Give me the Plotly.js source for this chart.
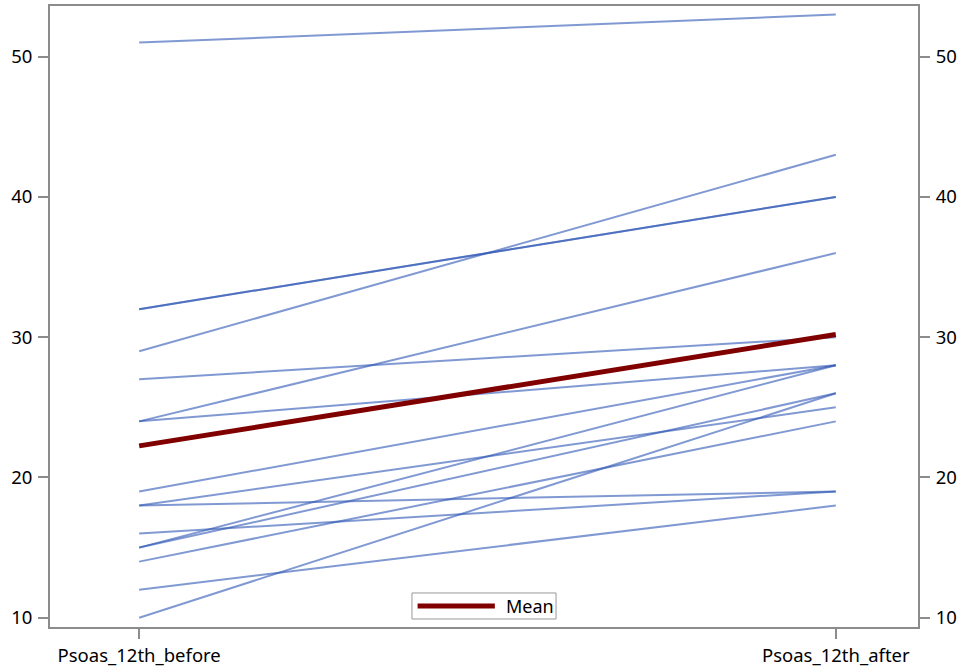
<!DOCTYPE html>
<html>
<head>
<meta charset="utf-8">
<script src="https://cdn.plot.ly/plotly-3.0.1.min.js"></script>
<style>html,body{margin:0;padding:0;background:#fff;}#chart{width:962px;height:671px;}</style>
</head>
<body>
<div id="chart"></div>
<script>
const categories = ["Psoas_12th_before", "Psoas_12th_after"];
const beforeValues = [51, 32, 32, 29, 27, 24, 24, 19, 18, 18, 16, 15, 15, 14, 12, 10];
const afterValues  = [53, 40, 40, 43, 30, 36, 28, 28, 25, 19, 19, 28, 26, 24, 18, 26];
const meanValues = [22.25, 30.19];
const yTicks = [10, 20, 30, 40, 50];
const legendLabel = "Mean";

const FONT = "Noto Sans, DejaVu Sans, sans-serif";
const MEAN_COLOR = "#800000";
const traces = [];
for (let i = 0; i < beforeValues.length; i++) {
  traces.push({
    x: [0, 1], y: [beforeValues[i], afterValues[i]],
    type: "scatter", mode: "lines", showlegend: false, hoverinfo: "skip",
    line: {color: "rgba(45,85,180,0.6)", width: 2}
  });
}
traces.push({
  x: [0, 1], y: meanValues, type: "scatter", mode: "lines", name: legendLabel,
  line: {color: MEAN_COLOR, width: 5}, showlegend: false
});
traces.push({x: [0.5], y: [30], yaxis: "y2", mode: "markers", marker: {opacity: 0}, showlegend: false, hoverinfo: "skip"});

const yr = [9.34, 53.61];
const axisCommon = {
  showline: true, linecolor: "#8c8c8c", linewidth: 2, ticks: "outside", ticklen: 10,
  tickcolor: "#8c8c8c", tickwidth: 2, showgrid: false, zeroline: false,
  tickfont: {family: FONT, size: 18.5, color: "#000"}
};
const layout = {
  width: 962, height: 671,
  margin: {l: 50, r: 44, t: 6, b: 44},
  paper_bgcolor: "#fff", plot_bgcolor: "#fff",
  xaxis: Object.assign({}, axisCommon, {
    range: [-0.128, 1.118], tickvals: [0, 1], ticktext: categories, mirror: true,
    ticklabelstandoff: 1
  }),
  yaxis: Object.assign({}, axisCommon, {range: yr, tickvals: yTicks, mirror: true, ticklabelstandoff: 2}),
  yaxis2: Object.assign({}, axisCommon, {range: yr, tickvals: yTicks, overlaying: "y", side: "right", ticklabelstandoff: 2}),
  showlegend: false,
  shapes: [
    {type: "rect", xref: "paper", yref: "paper", x0: 0.417, x1: 0.583, y0: 0.0129, y1: 0.0548,
     line: {color: "#999", width: 1}, fillcolor: "#fff", layer: "above"},
    {type: "line", xref: "paper", yref: "paper", x0: 0.4235, x1: 0.5125, y0: 0.0338, y1: 0.0338,
     line: {color: MEAN_COLOR, width: 5}, layer: "above"}
  ],
  annotations: [
    {xref: "paper", yref: "paper", x: 0.523, y: 0.0338, xanchor: "left", yanchor: "middle",
     text: legendLabel, showarrow: false, font: {family: FONT, size: 18, color: "#000"}}
  ]
};
Plotly.newPlot("chart", traces, layout, {displayModeBar: false, staticPlot: true});
</script>
</body>
</html>
